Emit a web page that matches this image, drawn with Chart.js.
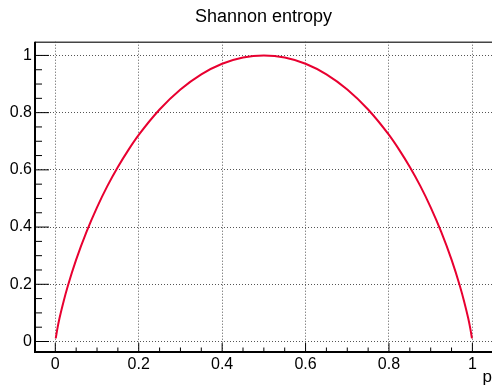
<!DOCTYPE html>
<html>
<head>
<meta charset="utf-8">
<script src="https://cdn.jsdelivr.net/npm/chart.js@4/dist/chart.umd.min.js"></script>
<style>
  html, body { margin: 0; padding: 0; background: #fff; }
  canvas { display: block; }
</style>
</head>
<body>
<canvas id="c" width="492" height="386"></canvas>
<script>
// values
let p_vals = [0.001, 0.005, 0.01, 0.02, 0.03, 0.05, 0.075, 0.1, 0.125, 0.15, 0.175, 0.2,
  0.25, 0.3, 0.35, 0.4, 0.45, 0.5, 0.55, 0.6, 0.65, 0.7, 0.75,
  0.8, 0.825, 0.85, 0.875, 0.9, 0.925, 0.95, 0.97, 0.98, 0.99, 0.995, 0.999];
let h_vals = [0.011, 0.045, 0.081, 0.141, 0.194, 0.286, 0.384, 0.469, 0.544, 0.610, 0.669, 0.722,
  0.811, 0.881, 0.934, 0.971, 0.993, 1.000, 0.993, 0.971, 0.934, 0.881, 0.811,
  0.722, 0.669, 0.610, 0.544, 0.469, 0.384, 0.286, 0.194, 0.141, 0.081, 0.045, 0.011];

let major_ticks = [0, 0.2, 0.4, 0.6, 0.8, 1];
let tick_labels = ["0", "0.2", "0.4", "0.6", "0.8", "1"];
let minor_ticks = [0, 0.05, 0.1, 0.15, 0.2, 0.25, 0.3, 0.35, 0.4, 0.45, 0.5,
  0.55, 0.6, 0.65, 0.7, 0.75, 0.8, 0.85, 0.9, 0.95, 1];

const FONT = "'Liberation Sans', Arial, Helvetica, sans-serif";

// ROOT style frame: inward ticks, thick axes
const rootFrame = {
  id: 'rootFrame',
  afterDraw(chart) {
    const ctx = chart.ctx;
    const a = chart.chartArea;
    const xs = chart.scales.x, ys = chart.scales.y;
    ctx.save();
    ctx.strokeStyle = '#444';
    ctx.lineWidth = 1.5;
    ctx.beginPath();
    ctx.moveTo(a.left, a.top + 0.5);
    ctx.lineTo(a.right, a.top + 0.5);
    ctx.stroke();

    ctx.strokeStyle = '#000';
    ctx.lineWidth = 1;
    ctx.beginPath();
    minor_ticks.forEach(v => {
      const big = major_ticks.indexOf(v) >= 0;
      const px = xs.getPixelForValue(v);
      ctx.moveTo(px, a.bottom);
      ctx.lineTo(px, a.bottom - (big ? 9 : 4.5));
      const py = ys.getPixelForValue(v);
      ctx.moveTo(a.left, py);
      ctx.lineTo(a.left + (big ? 14 : 7), py);
    });
    ctx.stroke();

    ctx.lineWidth = 2;
    ctx.beginPath();
    ctx.moveTo(a.left, a.top);
    ctx.lineTo(a.left, a.bottom);
    ctx.lineTo(a.right, a.bottom);
    ctx.stroke();
    ctx.restore();
  }
};

function setTicks(scale) {
  scale.ticks = major_ticks.map(v => ({ value: v }));
}

var ctx = document.getElementById('c');
var myChart = new Chart(ctx, {
  type: 'line',
  data: {
    datasets: [{
      data: p_vals.map((p, i) => ({ x: p, y: h_vals[i] })),
      borderColor: 'rgb(232,0,48)',
      borderWidth: 2,
      pointRadius: 0,
      cubicInterpolationMode: 'monotone',
      fill: false
    }]
  },
  options: {
    responsive: false,
    devicePixelRatio: 1,
    animation: false,
    layout: { padding: 0 },
    plugins: {
      legend: { display: false },
      tooltip: { enabled: false },
      title: {
        display: true,
        text: 'Shannon entropy',
        fullSize: false,
        color: '#000',
        font: { family: FONT, size: 18, weight: 'normal', lineHeight: 1.2 },
        padding: { top: 6, bottom: 14.1 }
      }
    },
    scales: {
      x: {
        type: 'linear',
        min: -0.0487,
        max: 1.047,
        afterBuildTicks: setTicks,
        afterFit: s => { s.height = 34; },
        grid: { color: '#555', lineWidth: 1, drawTicks: false, tickLength: 0 },
        border: { display: false, dash: [1, 2] },
        ticks: {
          color: '#000',
          font: { family: FONT, size: 16 },
          padding: 3,
          maxRotation: 0,
          autoSkip: false,
          callback: (v, i) => tick_labels[i]
        },
        title: {
          display: true,
          text: 'p',
          align: 'end',
          color: '#000',
          font: { family: FONT, size: 17, lineHeight: 1 },
          padding: { top: 0, bottom: 0 }
        }
      },
      y: {
        type: 'linear',
        min: -0.0367,
        max: 1.048,
        afterBuildTicks: setTicks,
        afterFit: s => { s.width = 35; },
        grid: { color: '#555', lineWidth: 1, drawTicks: false, tickLength: 0 },
        border: { display: false, dash: [1, 2] },
        ticks: {
          color: '#000',
          font: { family: FONT, size: 16 },
          padding: 3,
          autoSkip: false,
          callback: (v, i) => tick_labels[i]
        }
      }
    }
  },
  plugins: [rootFrame]
});
</script>
</body>
</html>
